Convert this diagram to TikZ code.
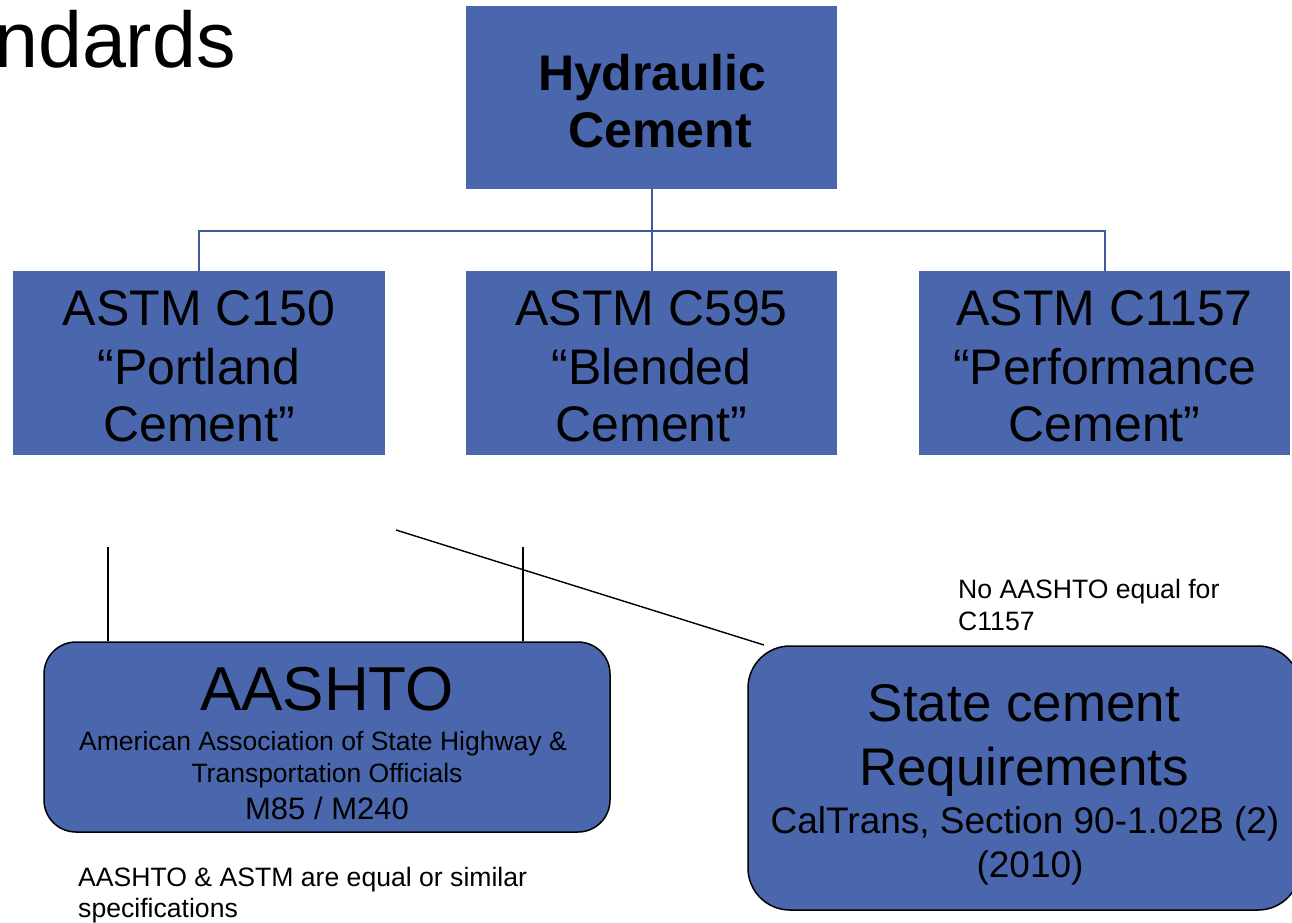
\documentclass[tikz,border=0pt]{standalone}
\usepackage{fontspec}
\setmainfont{Liberation Sans}
\definecolor{boxfill}{HTML}{4A66AC}
\definecolor{busline}{HTML}{3F5A99}
\begin{document}
\begin{tikzpicture}[x=1pt,y=-1pt,
  sqbox/.style={rectangle, fill=boxfill, inner sep=0pt},
  rbox/.style={rectangle, rounded corners=32pt, fill=boxfill, draw=black, line width=1.5pt, inner sep=0pt},
  txt/.style={inner sep=0pt, anchor=base},
  ltxt/.style={inner sep=0pt, anchor=base west},
  bus/.style={draw=busline, line width=2pt},
  thinline/.style={draw=black, line width=1.4pt}]
\useasboundingbox (0,0) rectangle (1292,922);

% title fragment
\node[ltxt, font=\fontsize{79}{88}\selectfont] (title) at (-6,67) {ndards};

% boxes
\node[sqbox, minimum width=371pt, minimum height=183pt] (hc) at (651.5,97.5) {};
\node[sqbox, minimum width=372pt, minimum height=184pt] (c150) at (199,363) {};
\node[sqbox, minimum width=371pt, minimum height=184pt] (c595) at (651.5,363) {};
\node[sqbox, minimum width=371pt, minimum height=184pt] (c1157) at (1104.5,363) {};

% bus connectors
\coordinate (bus) at (651.5,231);
\draw[bus] (hc.south) -- (c595.north);
\draw[bus] (bus) -| (c150.north);
\draw[bus] (bus) -| (c1157.north);

% texts of top boxes
\node[txt, font=\bfseries\fontsize{50}{58}\selectfont] (hc1) at (652,90) {Hydraulic};
\node[txt, font=\bfseries\fontsize{50}{58}\selectfont] (hc2) at (660,147) {Cement};

\node[txt, font=\fontsize{50}{58}\selectfont] (a1) at (199,325) {ASTM C150};
\node[txt, font=\fontsize{50}{58}\selectfont] (a2) at (199,384) {“Portland};
\node[txt, font=\fontsize{50}{58}\selectfont] (a3) at (199,441) {Cement”};

\node[txt, font=\fontsize{50}{58}\selectfont] (b1) at (651.5,325) {ASTM C595};
\node[txt, font=\fontsize{50}{58}\selectfont] (b2) at (651.5,384) {“Blended};
\node[txt, font=\fontsize{50}{58}\selectfont] (b3) at (651.5,441) {Cement”};

\node[txt, font=\fontsize{50}{58}\selectfont] (d1) at (1104.5,325) {ASTM C1157};
\node[txt, font=\fontsize{50}{58}\selectfont] (d2) at (1104.5,384) {“Performance};
\node[txt, font=\fontsize{50}{58}\selectfont] (d3) at (1104.5,441) {Cement”};

% lower boxes
\node[rbox, minimum width=566pt, minimum height=190pt] (aashto) at (327,737) {};
\node[rbox, rounded corners=42pt, minimum width=552pt, minimum height=264pt] (state) at (1024,778) {};

% black connectors
\coordinate (l1) at (108,547);
\coordinate (l2) at (523,547);
\coordinate (l3) at (396,530);
\coordinate (l3end) at (764,645);
\draw[thinline] (l1) -- (l1 |- aashto.north);
\draw[thinline] (l2) -- (l2 |- aashto.north);
\draw[thinline] (l3) -- (l3end);

% AASHTO texts
\node[txt, font=\fontsize{62}{70}\selectfont] (s1) at (327,710) {AASHTO};
\node[txt, font=\fontsize{26.5}{31}\selectfont] (s2) at (323,750) {American Association of State Highway \&};
\node[txt, font=\fontsize{26.5}{31}\selectfont] (s3) at (327,782) {Transportation Officials};
\node[txt, font=\fontsize{31}{36}\selectfont] (s4) at (327,819) {M85 / M240};

% State texts
\node[txt, font=\fontsize{53}{62}\selectfont] (r1) at (1024,721) {State cement};
\node[txt, font=\fontsize{53}{62}\selectfont] (r2) at (1024,785) {Requirements};
\node[txt, font=\fontsize{37}{44}\selectfont] (r3) at (1025,833) {CalTrans, Section 90-1.02B (2)};
\node[txt, font=\fontsize{37}{44}\selectfont] (r4) at (1030,877) {(2010)};

% notes
\node[ltxt, font=\fontsize{26.6}{31}\selectfont] (n1) at (958,598) {No AASHTO equal for};
\node[ltxt, font=\fontsize{26.6}{31}\selectfont] (n2) at (958,630) {C1157};
\node[ltxt, font=\fontsize{26.6}{31}\selectfont] (n3) at (78,886) {AASHTO \& ASTM are equal or similar};
\node[ltxt, font=\fontsize{26.6}{31}\selectfont] (n4) at (78,917) {specifications};
\end{tikzpicture}
\end{document}
